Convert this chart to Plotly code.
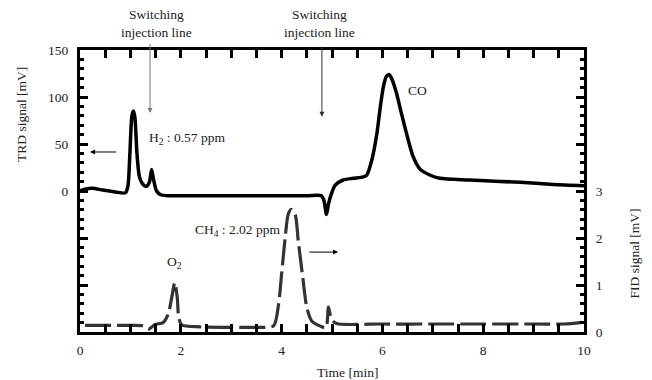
import plotly.graph_objects as go

# TRD signal (left axis, mV)
trd_t = [0.00, 0.10, 0.25, 0.45, 0.70, 0.90, 0.95, 0.99, 1.03, 1.06, 1.09, 1.13, 1.18, 1.25, 1.32,
         1.38, 1.42, 1.46, 1.52, 1.60, 1.75, 2.5, 3.5, 4.5, 4.79, 4.84, 4.89, 4.93, 4.97, 5.06,
         5.22, 5.42, 5.62, 5.69, 5.79, 5.89, 5.95, 6.02, 6.08, 6.13, 6.19, 6.28, 6.38, 6.48,
         6.61, 6.75, 6.94, 7.14, 7.74, 8.73, 9.39, 10.0]
trd_v = [0, 2, 3, 1, -1, -2, 5, 40, 80, 85, 78, 40, 15, 7, 5,
         10, 23, 12, 0, -4, -5, -5, -5, -5, -5, -10, -25, -14, -6, 6,
         11.7, 13.5, 15, 17, 33, 61, 86, 111, 122, 124, 119, 104, 82, 61,
         36.5, 23, 17, 13.5, 11.7, 9.2, 7, 5.7]

# FID signal (right axis, mV)
fid_t = [0.10, 0.50, 1.00, 1.25, 1.36, 1.49, 1.65, 1.75, 1.82, 1.88, 1.93, 1.96, 2.02, 2.38,
         3.00, 3.50, 3.84, 3.94, 4.00, 4.07, 4.13, 4.19, 4.27, 4.33, 4.42, 4.50, 4.60, 4.76,
         4.88, 4.93, 4.99, 5.09, 6.00, 7.00, 8.00, 9.00, 9.60, 10.0]
fid_v = [0.14, 0.14, 0.14, 0.13, 0.06, 0.16, 0.20, 0.38, 0.73, 1.05, 0.73, 0.30, 0.15, 0.11,
         0.10, 0.10, 0.13, 0.59, 1.23, 2.00, 2.50, 2.61, 2.50, 1.94, 1.16, 0.52, 0.23, 0.13,
         0.09, 0.53, 0.27, 0.18, 0.17, 0.17, 0.17, 0.17, 0.17, 0.21]

left_labeled = [0, 50, 100, 150]
left_unlabeled = [-150, -100, -50]
right_labeled = [0, 1, 2, 3]
right_unlabeled = [4, 5, 6]

FONT = "Liberation Serif"
FS = 13.5

fig = go.Figure()
fig.add_trace(go.Scatter(x=trd_t, y=trd_v, mode="lines", yaxis="y",
                         line=dict(color="black", width=3.5, shape="spline", smoothing=0.7),
                         showlegend=False))
fig.add_trace(go.Scatter(x=fid_t, y=fid_v, mode="lines", yaxis="y2",
                         line=dict(color="#333333", width=3.2, dash="26px,6px",
                                   shape="spline", smoothing=0.7),
                         showlegend=False))
# empty traces so that the tick-only axes render
fig.add_trace(go.Scatter(x=[], y=[], yaxis="y3", showlegend=False, hoverinfo="skip"))
fig.add_trace(go.Scatter(x=[], y=[], yaxis="y4", showlegend=False, hoverinfo="skip"))

tick_common = dict(showgrid=False, zeroline=False, ticks="inside", ticklen=8, tickwidth=2.5,
                   tickcolor="black", tickfont=dict(family=FONT, size=FS, color="#222"))
axis_common = dict(showline=True, linecolor="black", linewidth=3, **tick_common)

fig.update_layout(
    width=644, height=372,
    margin=dict(l=72, r=68, t=42, b=48, autoexpand=False),
    paper_bgcolor="white", plot_bgcolor="white",
    font=dict(family=FONT, size=FS, color="#222"),
    xaxis=dict(range=[0, 10], tickvals=[0, 2, 4, 6, 8, 10], mirror="allticks",
               minor=dict(dtick=0.5, ticks="inside", ticklen=4, tickwidth=2.5, tickcolor="black"),
               ticklabelstandoff=4, **axis_common),
    yaxis=dict(range=[-150, 150], tickvals=left_labeled,
               minor=dict(dtick=10, ticks="inside", ticklen=4, tickwidth=2.5, tickcolor="black"),
               ticklabelstandoff=6, **axis_common),
    yaxis3=dict(range=[-150, 150], tickvals=left_unlabeled, overlaying="y", side="left",
                showticklabels=False, showline=False, **tick_common),
    yaxis2=dict(range=[0, 6], tickvals=right_labeled, overlaying="y", side="right",
                minor=dict(dtick=0.2, ticks="inside", ticklen=4, tickwidth=2.5, tickcolor="black"),
                ticklabelstandoff=6, **axis_common),
    yaxis4=dict(range=[0, 6], tickvals=right_unlabeled, overlaying="y", side="right",
                showticklabels=False, showline=False, **tick_common),
)

ann = []
# axis titles
ann.append(dict(text="TRD signal [mV]", xref="paper", yref="paper", x=-0.115, y=0.77,
                xanchor="center", yanchor="middle",
                textangle=-90, showarrow=False, font=dict(size=FS)))
ann.append(dict(text="FID signal [mV]", xref="paper", yref="paper", x=1.1, y=0.28,
                xanchor="center", yanchor="middle",
                textangle=-90, showarrow=False, font=dict(size=FS)))
ann.append(dict(text="Time [min]", xref="paper", yref="paper", x=0.53, y=-0.145,
                xanchor="center", yanchor="middle", showarrow=False, font=dict(size=FS)))
# switching labels
ann.append(dict(text="Switching<br>injection line", xref="x", yref="paper", x=1.51, y=1.095,
                xanchor="center", yanchor="middle", showarrow=False, font=dict(size=FS)))
ann.append(dict(text="Switching<br>injection line", xref="x", yref="paper", x=4.76, y=1.095,
                xanchor="center", yanchor="middle", showarrow=False, font=dict(size=FS)))
# switching arrows
ann.append(dict(text="", x=1.39, y=83, xref="x", yref="y", ax=1.39, ay=158, axref="x", ayref="y",
                showarrow=True, arrowhead=2, arrowsize=1, arrowwidth=1, arrowcolor="#777"))
ann.append(dict(text="", x=4.8, y=79, xref="x", yref="y", ax=4.8, ay=155, axref="x", ayref="y",
                showarrow=True, arrowhead=2, arrowsize=1, arrowwidth=1, arrowcolor="#333"))
# peak labels
ann.append(dict(text="H<sub>2</sub> : 0.57 ppm", x=1.33, y=56, xref="x", yref="y",
                xanchor="left", yanchor="middle", showarrow=False, font=dict(size=FS)))
ann.append(dict(text="CO", x=6.69, y=107, xref="x", yref="y", xanchor="center", yanchor="middle",
                showarrow=False, font=dict(size=FS)))
ann.append(dict(text="CH<sub>4</sub> : 2.02 ppm", x=4.0, y=2.17, xref="x", yref="y2",
                xanchor="right", yanchor="middle", showarrow=False, font=dict(size=FS)))
ann.append(dict(text="O<sub>2</sub>", x=1.88, y=1.47, xref="x", yref="y2",
                xanchor="center", yanchor="middle", showarrow=False, font=dict(size=FS)))
# axis-pointer arrows
ann.append(dict(text="", x=0.2, y=41.5, xref="x", yref="y", ax=0.75, ay=41.5, axref="x", ayref="y",
                showarrow=True, arrowhead=2, arrowsize=1, arrowwidth=1, arrowcolor="black"))
ann.append(dict(text="", x=5.12, y=1.70, xref="x", yref="y2", ax=4.52, ay=1.70, axref="x", ayref="y2",
                showarrow=True, arrowhead=2, arrowsize=1, arrowwidth=1, arrowcolor="black"))
fig.update_layout(annotations=ann)

fig.write_html("out.html")
